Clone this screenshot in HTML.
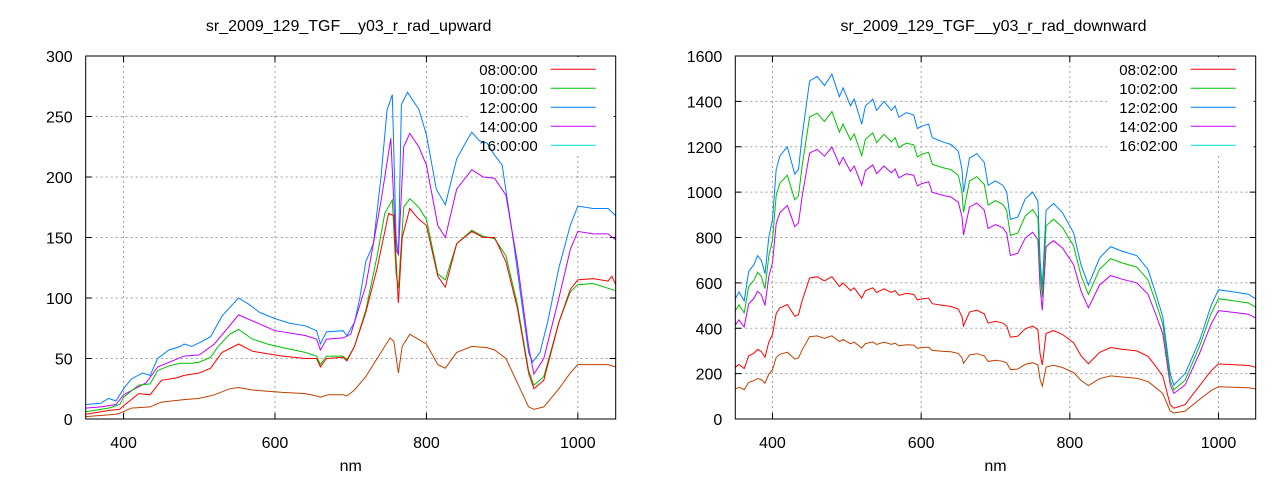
<!DOCTYPE html>
<html><head><meta charset="utf-8"><style>
html,body{margin:0;padding:0;background:#fff;}
svg{display:block;font-family:"Liberation Sans",sans-serif;}
</style></head><body>
<svg id="s" width="1280" height="480" xmlns="http://www.w3.org/2000/svg"></svg>
<script>
const S=document.getElementById('s');
let out='<rect width="1280" height="480" fill="#fff"/>';
function interp(pts,x){for(let i=0;i<pts.length-1;i++){if(x>=pts[i][0]&&x<=pts[i+1][0]){const t=(x-pts[i][0])/(pts[i+1][0]-pts[i][0]);return pts[i][1]+t*(pts[i+1][1]-pts[i][1]);}}return pts[pts.length-1][1];}
function P(a){const r=[];for(let i=0;i<a.length;i+=2)r.push([a[i],a[i+1]]);return r;}
function chart(o){
  const L=o.L,R=o.R,T=56,B=419;
  const X=v=>L+(v-350)/700*(R-L), Y=v=>B-v/o.ymax*(B-T);
  out+=`<text x="${(L+R)/2-2}" y="31" font-size="16" text-anchor="middle" fill="#000">${o.title}</text>`;
  out+=`<text x="${(L+R)/2}" y="471" font-size="16" text-anchor="middle" fill="#000">nm</text>`;
  for(let v=0;v<=o.ymax;v+=o.ystep){const y=Y(v);
    if(v>0&&v<o.ymax) out+=`<line x1="${L}" x2="${R}" y1="${y}" y2="${y}" stroke="#a0a0a0" stroke-dasharray="2,3"/>`;
    out+=`<line x1="${L}" x2="${L+6}" y1="${y}" y2="${y}" stroke="#000"/><line x1="${R-6}" x2="${R}" y1="${y}" y2="${y}" stroke="#000"/>`;
    out+=`<text x="${L-13}" y="${y+6}" font-size="16" text-anchor="end">${v}</text>`;}
  for(const v of [400,600,800,1000]){const x=X(v);
    out+=`<line x1="${x}" x2="${x}" y1="${T}" y2="${B}" stroke="#a0a0a0" stroke-dasharray="2,3"/>`;
    out+=`<line x1="${x}" x2="${x}" y1="${B-6}" y2="${B}" stroke="#000"/><line x1="${x}" x2="${x}" y1="${T}" y2="${T+6}" stroke="#000"/>`;
    out+=`<text x="${x}" y="${B+29}" font-size="16" text-anchor="middle">${v}</text>`;}
  out+=`<rect x="${R-148}" y="${T+1}" width="146" height="98" fill="#fff"/>`;
  for(const s of o.series){
    let d='';s.pts.forEach((p,i)=>{d+=(i?'L':'M')+X(p[0]).toFixed(1)+','+Y(p[1]).toFixed(1);});
    out+=`<path d="${d}" fill="none" stroke="${s.c}" stroke-width="1"/>`;}
  const cols=['#ff0000','#00c000','#0080ff','#c000ff','#00e0e0'];
  o.labels.forEach((t,i)=>{const y=69.3+i*19;
    out+=`<text x="${R-78}" y="${y+5.5}" font-size="15" text-anchor="end">${t}</text>`;
    out+=`<line x1="${R-65}" x2="${R-20}" y1="${y}" y2="${y}" stroke="${cols[i]}"/>`;});
  out+=`<rect x="${L}" y="${T}" width="${R-L}" height="${B-T}" fill="none" stroke="#000"/>`;
}
const blueU=P([350,12,370,13,380,17,390,15,400,25,410,33,425,38,435,36,445,50,460,57,475,60,480,62,490,60,500,63,515,68,530,85,540,92,552,100,565,95,580,88,600,83,620,79,640,77,655,73,660,62,668,72,690,73,695,69,705,80,712,100,720,130,730,145,740,200,748,255,755,268,760,150,763,135,767,260,775,270,790,256,800,235,813,190,825,177,840,215,855,232,860,237,870,230,880,228,890,218,900,210,912,160,925,100,935,55,940,47,950,55,960,80,975,125,990,160,1000,176,1020,174,1040,174,1050,168]);
const purU=P([350,9,370,10,390,12,400,20,430,30,445,43,480,52,500,53,520,62,552,86,600,73,640,69,655,66,660,57,668,66,690,67,700,70,720,110,740,180,753,232,760,140,763,136,770,225,778,236,790,225,800,210,815,160,825,150,840,190,860,206,875,200,890,199,905,185,920,130,935,60,942,37,955,50,975,100,990,140,1000,155,1020,153,1040,153,1050,148]);
const grnU=P([350,6,380,9,395,12,400,18,420,28,435,29,445,40,460,44,475,46,490,46,500,47,515,51,525,60,540,70,552,74,570,66,590,62,610,59,640,55,655,52,660,45,668,52,690,52,695,49,705,60,720,90,735,135,745,170,755,181,760,120,763,108,770,175,778,182,790,175,800,165,815,120,825,115,840,145,860,156,875,151,890,149,905,135,920,95,935,40,942,28,955,35,975,80,990,105,1000,111,1020,112,1040,108,1050,106]);
const redU=P([350,4,380,7,395,8,400,11,420,21,435,20,450,32,470,34,480,36,500,38,515,42,530,55,552,62,570,56,590,54,610,52,640,50,655,50,660,43,668,50,690,51,695,48,705,60,720,88,735,125,750,170,757,168,760,130,763,96,768,150,778,174,790,165,800,160,815,118,825,109,840,145,860,155,875,150,890,150,905,130,920,92,935,38,942,25,955,32,975,80,990,107,1000,115,1020,116,1040,114,1045,118,1050,111]);
const brnU=P([350,2,390,4,400,6,410,9,435,10,450,14,480,16,500,17,520,20,540,25,552,26,570,24,590,23,610,22,640,21,655,19,660,18,670,20,690,20,695,19,705,24,720,35,740,55,752,67,757,64,763,38,768,60,778,70,800,62,815,45,825,42,840,55,860,60,880,59,890,57,905,50,920,30,935,10,942,8,955,10,975,25,990,38,1000,45,1020,45,1040,45,1050,43]);
chart({L:85.7,R:615.7,ymax:300,ystep:50,title:'sr_2009_129_TGF__y03_r_rad_upward',
 labels:['08:00:00','10:00:00','12:00:00','14:00:00','16:00:00'],
 series:[{c:'#c04000',pts:brnU},{c:'#0080ff',pts:blueU},{c:'#c000ff',pts:purU},{c:'#00c000',pts:grnU},{c:'#ff0000',pts:redU}]});
const blueD=P([350,530,355,560,362,520,368,650,375,680,380,720,385,700,390,640,395,800,400,880,405,1100,410,1160,420,1200,430,1080,435,1100,440,1250,450,1490,460,1510,470,1470,480,1520,490,1420,495,1460,505,1380,510,1410,520,1300,525,1380,535,1410,540,1360,550,1400,560,1360,565,1380,570,1330,580,1350,590,1340,595,1280,600,1290,610,1300,615,1240,630,1220,640,1210,650,1180,655,1100,657,1000,665,1150,675,1170,685,1130,690,1030,700,1050,710,1030,715,1000,720,880,730,890,740,970,750,1000,757,960,760,700,763,580,768,920,778,950,790,910,805,820,815,680,825,590,840,710,855,760,870,740,890,720,905,660,915,560,925,450,935,200,940,150,955,200,975,350,990,500,1000,570,1020,560,1040,550,1050,530]);
function scaled(fp,low){return blueD.map(p=>{let f=interp(fp,p[0]);if(p[0]>925&&p[0]<965)f*=low;return [p[0],p[1]*f];});}
const grnD=scaled(P([350,0.9,500,0.89,800,0.93,1050,0.93]),0.92);
const purD=scaled(P([350,0.78,500,0.79,800,0.83,1050,0.84]),0.9);
const redD=scaled(P([350,0.43,500,0.41,800,0.41,1050,0.43]),0.75);
const brnD=scaled(P([350,0.25,500,0.24,800,0.25,1050,0.25]),0.7);
chart({L:735.3,R:1255.7,ymax:1600,ystep:200,title:'sr_2009_129_TGF__y03_r_rad_downward',
 labels:['08:02:00','10:02:00','12:02:00','14:02:00','16:02:00'],
 series:[{c:'#c04000',pts:brnD},{c:'#0080ff',pts:blueD},{c:'#c000ff',pts:purD},{c:'#00c000',pts:grnD},{c:'#ff0000',pts:redD}]});
S.innerHTML=out;
</script>
</body></html>
